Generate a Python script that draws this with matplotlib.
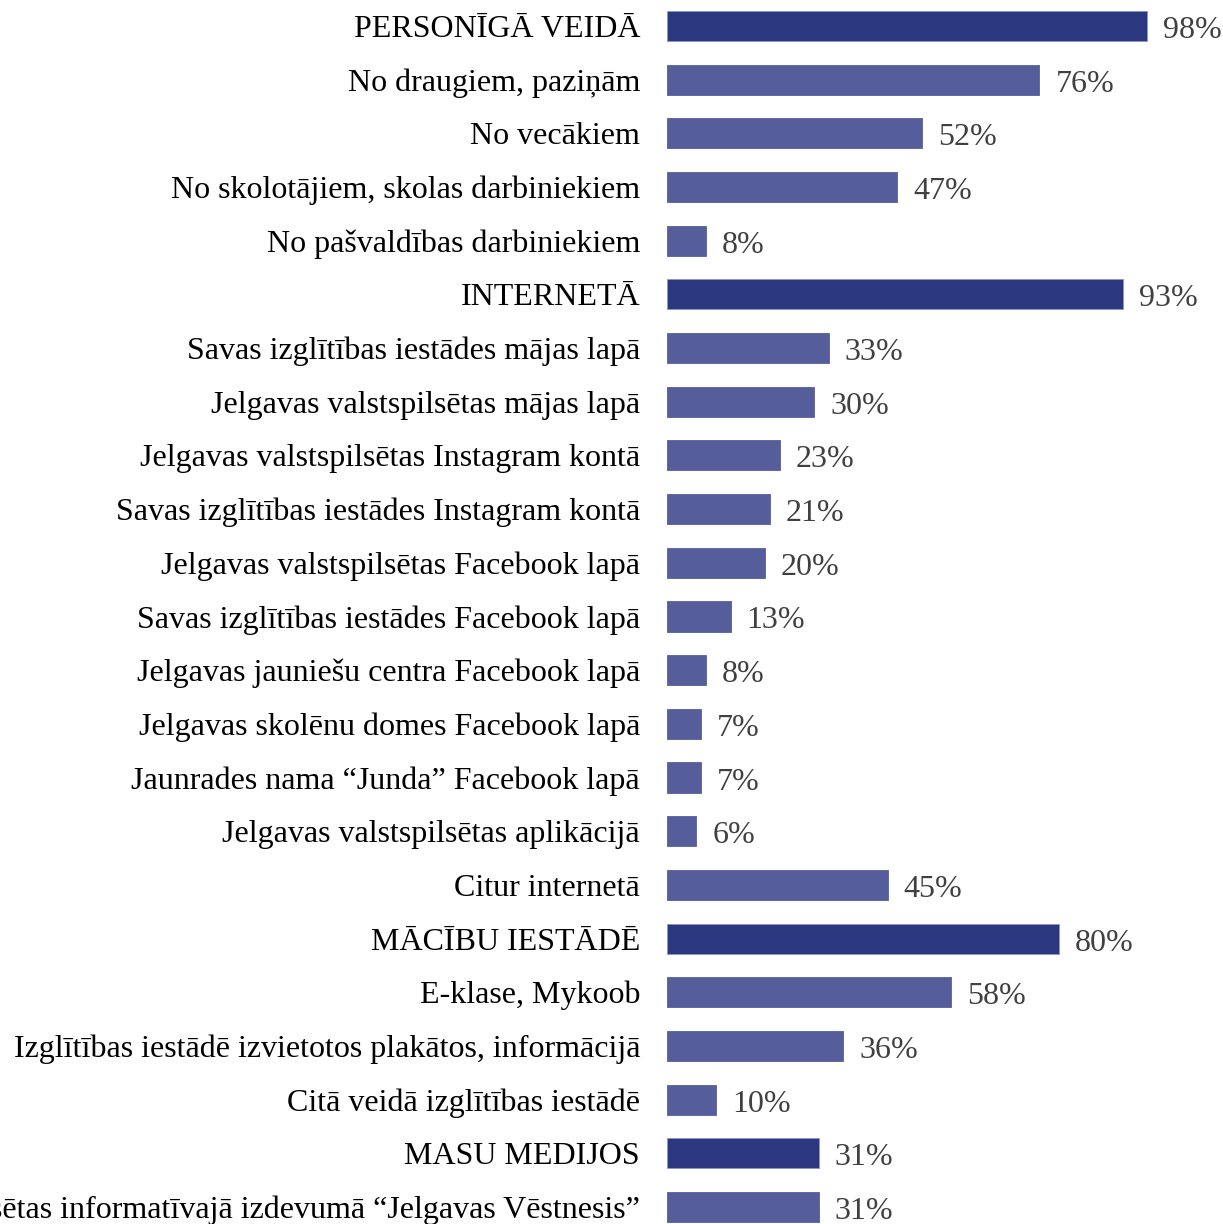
import matplotlib
matplotlib.use("Agg")
import matplotlib.pyplot as plt
from matplotlib.transforms import offset_copy

categories = [
    "PERSONĪGĀ VEIDĀ",
    "No draugiem, paziņām",
    "No vecākiem",
    "No skolotājiem, skolas darbiniekiem",
    "No pašvaldības darbiniekiem",
    "INTERNETĀ",
    "Savas izglītības iestādes mājas lapā",
    "Jelgavas valstspilsētas mājas lapā",
    "Jelgavas valstspilsētas Instagram kontā",
    "Savas izglītības iestādes Instagram kontā",
    "Jelgavas valstspilsētas Facebook lapā",
    "Savas izglītības iestādes Facebook lapā",
    "Jelgavas jauniešu centra Facebook lapā",
    "Jelgavas skolēnu domes Facebook lapā",
    "Jaunrades nama “Junda” Facebook lapā",
    "Jelgavas valstspilsētas aplikācijā",
    "Citur internetā",
    "MĀCĪBU IESTĀDĒ",
    "E-klase, Mykoob",
    "Izglītības iestādē izvietotos plakātos, informācijā",
    "Citā veidā izglītības iestādē",
    "MASU MEDIJOS",
    "Jelgavas valstspilsētas informatīvajā izdevumā “Jelgavas Vēstnesis”",
]
values = [98, 76, 52, 47, 8, 93, 33, 30, 23, 21, 20, 13, 8, 7, 7, 6, 45, 80, 58, 36, 10, 31, 31]
is_group = [True, False, False, False, False, True, False, False, False, False, False,
            False, False, False, False, False, False, True, False, False, False, True, False]

dark = "#2B3880"
light = "#555E9A"

plt.rcParams['font.family'] = ['Liberation Serif', 'DejaVu Serif']

fig = plt.figure(figsize=(12.23, 12.24), dpi=100)
W, H = 1223, 1224
ax = fig.add_axes([667 / W, 0, (1157 - 667) / W, 1])

s = 53.68
top = -26 / s
bottom = top + H / s

ys = list(range(len(categories)))
colors = [dark if g else light for g in is_group]
ax.barh(ys, values, height=0.56, color=colors,
        edgecolor=["#8C95C8" if g else light for g in is_group], linewidth=0.6)

ax.set_xlim(0, 100)
ax.set_ylim(bottom, top)
ax.axis('off')

lab_tr = offset_copy(ax.transData, fig=fig, x=-27, y=0, units='dots')
for y, c in zip(ys, categories):
    ax.text(0, y, c, transform=lab_tr, ha='right', va='center_baseline',
            fontsize=23, color='black', clip_on=False)

val_tr = offset_copy(ax.transData, fig=fig, x=16, y=-1, units='dots')
for y, v in zip(ys, values):
    ax.text(v, y, f"{v}%", transform=val_tr, ha='left', va='center_baseline',
            fontsize=23, color='#404040', clip_on=False)

fig.savefig("out.png", dpi=100)
